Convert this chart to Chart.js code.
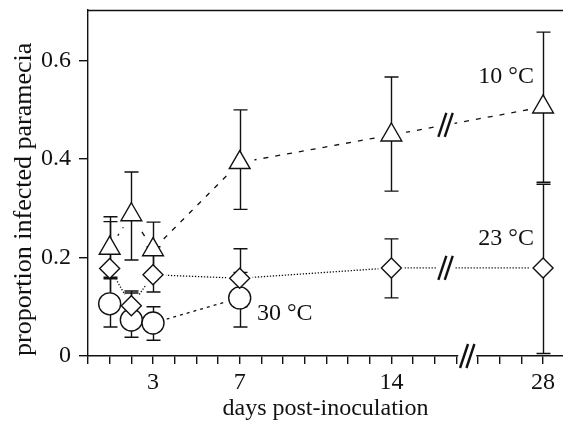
<!DOCTYPE html>
<html><head><meta charset="utf-8">
<script src="https://cdn.jsdelivr.net/npm/chart.js@4"></script>
<style>html,body{margin:0;padding:0;background:#fff}#wrap{width:563px;height:426px;position:relative}</style>
</head><body><div id="wrap"><canvas id="c"></canvas></div>
<script>
// ---- data ----
const days = [1, 2, 3, 7, 14, 28];
const days30 = [1, 2, 3, 7];
const mean10 = [0.219, 0.287, 0.216, 0.393, 0.449, 0.506];
const low10  = [0.160, 0.195, 0.170, 0.298, 0.335, 0.353];
const high10 = [0.283, 0.374, 0.272, 0.500, 0.567, 0.658];
const mean23 = [0.178, 0.102, 0.165, 0.158, 0.179, 0.179];
const low23  = [0.100, 0.075, 0.130, 0.100, 0.118, 0.005];
const high23 = [0.273, 0.132, 0.222, 0.218, 0.238, 0.349];
const mean30 = [0.106, 0.073, 0.067, 0.118];
const low30  = [0.059, 0.038, 0.032, 0.059];
const high30 = [0.157, 0.128, 0.100, 0.170];
const seriesLabels = ['10 °C', '23 °C', '30 °C'];
const xTickDays = [0,1,2,3,4,5,6,7,8,9,10,11,12,13,14,15,16,17,25,26,27,28];
const xLabelDays = [3, 7, 14, 28];
const yTicks = [0, 0.2, 0.4, 0.6];
const yTickLabels = ['0', '0.2', '0.4', '0.6'];
const xTitle = 'days post-inoculation';
const yTitle = 'proportion infected paramecia';

// broken axis: days 18–24 are cut out
const BREAK_SKIP = 7;
const axisPos = d => d > 17 ? d - BREAK_SKIP : d;
const AXIS_BREAK_POS = 17.5;
const LINE_BREAK_DAY = 16.5;

const pts = (ds, ys) => ds.map((d, i) => ({x: axisPos(d), y: ys[i]}));

const FONT = "'Liberation Serif', 'Times New Roman', serif";
const INK = '#111';

const lineDs = (data, dash, order, extra) => Object.assign({
  data, showLine: true, borderColor: INK, borderWidth: 1.3, borderDash: dash,
  pointRadius: 0, pointHoverRadius: 0, order, fill: false
}, extra || {});
const markDs = (data, style, r, order, low, high) => ({
  data, showLine: false, pointStyle: style, pointRadius: r, pointHoverRadius: r,
  pointBackgroundColor: '#fff', pointBorderColor: INK, pointBorderWidth: 1.4, order,
  errLow: low, errHigh: high, isMarker: true
});

const datasets = [
  lineDs(pts(days, mean10), [5, 7], 12, {breakLine: true}),
  lineDs(pts(days, mean23), [1.3, 1.7], 11, {breakLine: true}),
  lineDs(pts(days30, mean30), [3, 4], 10, {lastLine: true}),
  markDs(pts(days, mean10), 'triangle', 12, 3, low10, high10),
  markDs(pts(days30, mean30), 'circle', 11, 2, low30, high30),
  markDs(pts(days, mean23), 'rectRot', 10, 1, low23, high23)
];

const labelAnchors = [
  {text: seriesLabels[0], x: 20.58, y: 0.555, align: 'right'},
  {text: seriesLabels[1], x: 20.58, y: 0.225, align: 'right'},
  {text: seriesLabels[2], x: 7.8, y: 0.073, align: 'left'}
];

function breakMark(ctx, cx, cy) {
  ctx.save();
  ctx.fillStyle = '#fff';
  ctx.fillRect(cx - 9, cy - 4, 18, 8);
  ctx.strokeStyle = INK; ctx.lineWidth = 2.4; ctx.lineCap = 'butt';
  for (const o of [-3.2, 3.2]) {
    ctx.beginPath();
    ctx.moveTo(cx + o - 4, cy + 12);
    ctx.lineTo(cx + o + 4, cy - 12);
    ctx.stroke();
  }
  ctx.restore();
}

const decor = {
  id: 'decor',
  afterDatasetDraw(chart, args) {
    if (!chart.data.datasets[args.index].lastLine) return;
    const ctx = chart.ctx, xs = chart.scales.x, ys = chart.scales.y;
    // gaps of the lines around each point
    ctx.save();
    ctx.fillStyle = '#fff';
    chart.data.datasets.forEach(ds => {
      if (!ds.isMarker) return;
      ds.data.forEach(p => {
        ctx.beginPath();
        ctx.arc(xs.getPixelForValue(p.x), ys.getPixelForValue(p.y), ds.pointRadius + 3, 0, Math.PI * 2);
        ctx.fill();
      });
    });
    ctx.restore();
    // breaks on the lines
    chart.data.datasets.forEach(ds => {
      if (!ds.breakLine) return;
      const a = ds.data[ds.data.length - 2], b = ds.data[ds.data.length - 1];
      const t = (LINE_BREAK_DAY - a.x) / (b.x - a.x);
      const yv = a.y + t * (b.y - a.y);
      breakMark(ctx, xs.getPixelForValue(LINE_BREAK_DAY), ys.getPixelForValue(yv));
    });
    // error bars
    ctx.save();
    ctx.strokeStyle = INK; ctx.lineWidth = 1.4;
    chart.data.datasets.forEach(ds => {
      if (!ds.isMarker) return;
      ds.data.forEach((p, i) => {
        const px = Math.round(xs.getPixelForValue(p.x)) + 0.5;
        const yl = ys.getPixelForValue(ds.errLow[i]);
        const yh = ys.getPixelForValue(ds.errHigh[i]);
        ctx.beginPath();
        ctx.moveTo(px, yl); ctx.lineTo(px, yh);
        ctx.moveTo(px - 7, yl); ctx.lineTo(px + 7, yl);
        ctx.moveTo(px - 7, yh); ctx.lineTo(px + 7, yh);
        ctx.stroke();
      });
    });
    ctx.restore();
  },
  afterDraw(chart) {
    const ctx = chart.ctx, xs = chart.scales.x, ys = chart.scales.y, ca = chart.chartArea;
    ctx.save();
    ctx.strokeStyle = INK; ctx.lineWidth = 1.4;
    ctx.beginPath();
    ctx.moveTo(ca.left, ca.top + 0.5); ctx.lineTo(ca.right, ca.top + 0.5);
    ctx.stroke();
    ctx.restore();
    breakMark(ctx, xs.getPixelForValue(AXIS_BREAK_POS), ca.bottom);
    ctx.save();
    ctx.fillStyle = INK; ctx.font = '24px ' + FONT; ctx.textBaseline = 'alphabetic';
    labelAnchors.forEach(l => {
      ctx.textAlign = l.align;
      ctx.fillText(l.text, xs.getPixelForValue(l.x), ys.getPixelForValue(l.y));
    });
    ctx.restore();
  }
};

new Chart(document.getElementById('c'), {
  type: 'scatter',
  data: {datasets},
  options: {
    responsive: true, maintainAspectRatio: false, animation: false,
    events: [],
    layout: {autoPadding: false, padding: {left: 0, right: 0, top: 10, bottom: 0}},
    plugins: {legend: {display: false}, tooltip: {enabled: false}},
    scales: {
      x: {
        type: 'linear', min: 0, max: 21.92,
        afterBuildTicks: s => { s.ticks = xTickDays.map(d => ({value: axisPos(d)})); },
        afterFit: s => { s.height = 70; s.paddingLeft = 0; s.paddingRight = 0; },
        ticks: {
          autoSkip: false, maxRotation: 0, color: INK, padding: 4,
          font: {family: FONT, size: 24},
          callback: v => {
            const d = xTickDays.find(dd => axisPos(dd) === v);
            return xLabelDays.includes(d) ? String(d) : '';
          }
        },
        grid: {drawOnChartArea: false, drawTicks: true, tickLength: 8, color: INK, lineWidth: 1.4},
        border: {display: true, color: INK, width: 1.4},
        title: {display: true, text: xTitle, color: INK, font: {family: FONT, size: 24, lineHeight: 1}, padding: {top: 0, bottom: 5}}
      },
      y: {
        type: 'linear', min: 0, max: 0.703,
        afterBuildTicks: s => { s.ticks = yTicks.map(v => ({value: v})); },
        afterFit: s => { s.width = 88; s.paddingTop = 0; s.paddingBottom = 0; },
        ticks: {
          color: INK, padding: 8, font: {family: FONT, size: 24},
          callback: v => yTickLabels[yTicks.indexOf(v)]
        },
        grid: {drawOnChartArea: false, drawTicks: true, tickLength: 9, color: INK, lineWidth: 1.4},
        border: {display: true, color: INK, width: 1.4},
        title: {display: true, text: yTitle, align: 'start', color: INK, font: {family: FONT, size: 26, lineHeight: 1}, padding: {top: 11, bottom: 0}}
      }
    }
  },
  plugins: [decor]
});
</script></body></html>
